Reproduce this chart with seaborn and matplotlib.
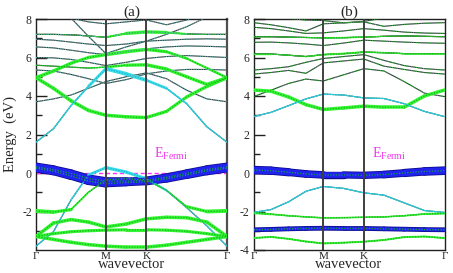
import numpy as np
import pandas as pd
import matplotlib
matplotlib.use('Agg')
import matplotlib.pyplot as plt
import seaborn as sns

# k-path G-M-K-G (hexagonal), sampled at 11 points
kpts = [0.0, 0.144, 0.289, 0.433, 0.577, 0.744, 0.911, 1.077, 1.244, 1.411, 1.577]
klabel_pos = [0.0, 0.577, 0.911, 1.577]
klabels = ['Γ', 'M', 'K', 'Γ']

# ---------------- panel (a) ----------------
# plain bands: name -> energies (eV)
a_thin = {
    'a_t1':  [8.6, 8.35, 8.05, 7.85, 7.75, 7.85, 7.95, 7.7, 7.95, 8.3, 8.6],
    'a_st':  [9.6, 8.9, 8.05, 7.1, 6.2, 6.55, 6.85, 7.2, 7.6, 8.1, 8.4],
    'a_72':  [7.2, 7.2, 7.18, 7.12, 7.05, 7.25, 7.33, 7.3, 7.22, 7.2, 7.2],
    'a_69':  [6.95, 6.9, 6.8, 6.7, 6.62, 6.7, 6.85, 6.9, 6.95, 6.97, 6.95],
    'a_65':  [6.55, 6.5, 6.38, 6.25, 6.15, 6.3, 6.45, 6.55, 6.6, 6.58, 6.55],
    'a_60':  [6.0, 5.98, 5.9, 5.75, 5.58, 5.75, 5.95, 6.05, 6.1, 6.05, 6.0],
    'a_v':   [5.35, 5.3, 5.12, 4.9, 4.65, 4.85, 5.15, 5.3, 5.38, 5.38, 5.35],
    'a_37':  [3.7, 3.85, 4.05, 4.4, 4.75, 5.0, 5.2, 4.9, 4.3, 3.85, 3.7],
}
# projected (fat) bands: energies, orbital weights, character
a_fat = {
    'a_g1':  ([4.95, 4.4, 3.75, 3.25, 3.0, 2.92, 2.88, 3.2, 3.95, 4.5, 4.95],
              [0.9, 0.9, 0.9, 0.9, 0.9, 0.9, 0.9, 0.8, 0.8, 0.9, 0.9], 'g'),
    'a_g2':  ([4.95, 5.3, 5.7, 6.0, 6.15, 6.3, 6.42, 6.3, 5.95, 5.45, 4.95],
              [0.9, 0.9, 0.8, 0.8, 0.9, 0.9, 0.9, 0.8, 0.6, 0.5, 0.8], 'g'),
    'a_g3':  ([5.6, 5.55, 5.5, 5.45, 5.5, 5.6, 5.62, 5.4, 5.0, 4.6, 4.95],
              [0.1, 0.1, 0.1, 0.2, 0.5, 0.8, 0.9, 0.9, 0.8, 0.9, 0.9], 'g'),
    'a_g72': ([7.2, 7.2, 7.18, 7.12, 7.05, 7.25, 7.33, 7.3, 7.22, 7.2, 7.2],
              [0.0, 0.0, 0.0, 0.1, 0.3, 0.8, 0.9, 0.8, 0.3, 0.0, 0.0], 'g'),
    'a_c1':  ([1.6, 2.3, 3.5, 4.5, 5.42, 5.15, 4.82, 4.4, 3.6, 2.4, 1.6],
              [0.25, 0.3, 0.35, 0.5, 1.0, 1.0, 0.9, 0.5, 0.35, 0.3, 0.25], 'c'),
    'a_c2':  ([-3.8, -3.05, -1.4, -0.1, 0.28, 0.05, -0.3, -0.9, -1.8, -2.75, -3.8],
              [0.3, 0.2, 0.2, 0.5, 0.9, 0.8, 0.8, 0.3, 0.2, 0.2, 0.3], 'c'),
    'a_gm2': ([-1.97, -2.03, -1.9, -1.0, -0.35, -0.3, -0.35, -0.9, -1.75, -2.0, -1.97],
              [1.0, 1.0, 0.7, 0.2, 0.4, 0.4, 0.4, 0.2, 0.6, 1.0, 1.0], 'g'),
    'a_gm24': ([-3.3, -2.6, -2.42, -2.55, -2.8, -2.65, -2.38, -2.3, -2.32, -2.55, -3.3],
               [0.9, 0.9, 0.9, 0.9, 0.9, 0.9, 0.9, 0.9, 0.9, 0.9, 0.9], 'g'),
    'a_gm30': ([-3.3, -3.15, -3.05, -3.0, -2.97, -2.95, -2.95, -2.97, -3.03, -3.15, -3.3],
               [0.8, 0.8, 0.8, 0.8, 0.8, 0.8, 0.8, 0.8, 0.8, 0.8, 0.8], 'g'),
    'a_gm38': ([-3.3, -3.45, -3.6, -3.72, -3.8, -3.85, -3.85, -3.75, -3.6, -3.45, -3.3],
               [0.9, 0.9, 0.9, 0.9, 0.9, 0.9, 0.9, 0.9, 0.9, 0.9, 0.9], 'g'),
    'a_b1':  ([0.32, 0.18, -0.02, -0.28, -0.42, -0.42, -0.38, -0.22, -0.02, 0.18, 0.32],
              [1.0, 1.0, 0.9, 0.9, 0.9, 0.8, 0.8, 0.9, 0.9, 1.0, 1.0], 'b'),
    'a_b2':  ([0.25, 0.1, -0.15, -0.42, -0.55, -0.5, -0.45, -0.3, -0.1, 0.1, 0.25],
              [1.0, 1.0, 0.9, 0.9, 0.9, 0.8, 0.8, 0.9, 0.9, 1.0, 1.0], 'b'),
}

# ---------------- panel (b) ----------------
b_thin = {
    'b_t0':  [8.3, 8.15, 8.02, 7.95, 7.92, 7.8, 7.88, 8.05, 8.15, 8.1, 8.3],
    'b_t1':  [7.81, 7.7, 7.55, 7.38, 7.75, 7.8, 7.85, 7.62, 7.72, 7.78, 7.81],
    'b_t2':  [7.57, 7.5, 7.38, 7.25, 7.28, 7.38, 7.5, 7.42, 7.32, 7.27, 7.25],
    'b_t3':  [7.08, 7.08, 7.06, 7.04, 7.02, 7.03, 7.06, 7.1, 7.12, 7.1, 7.08],
    'b_t4':  [6.79, 6.8, 6.76, 6.7, 6.62, 6.75, 6.9, 6.85, 6.8, 6.76, 6.74],
    'b_t5':  [6.18, 6.18, 6.12, 6.05, 6.15, 6.2, 6.28, 6.25, 6.2, 6.2, 6.2],
    'b_t6':  [5.35, 5.42, 5.52, 5.75, 5.95, 6.05, 6.15, 5.85, 5.58, 5.42, 5.35],
    'b_t7':  [5.14, 5.22, 5.33, 5.18, 5.72, 5.82, 5.92, 5.55, 5.38, 5.22, 5.14],
    'b_t8':  [3.97, 4.3, 4.65, 4.88, 4.78, 5.1, 5.42, 5.3, 4.75, 4.15, 3.97],
}
b_fat = {
    'b_g43': ([4.31, 4.25, 3.95, 3.55, 3.3, 3.38, 3.47, 3.42, 3.42, 4.0, 4.31],
              [0.9, 0.9, 0.9, 0.9, 0.9, 0.9, 0.9, 0.9, 0.9, 0.9, 0.9], 'g'),
    'b_g62': ([6.18, 6.18, 6.12, 6.05, 6.15, 6.2, 6.28, 6.25, 6.2, 6.2, 6.2],
              [0.4, 0.3, 0.2, 0.2, 0.5, 0.5, 0.5, 0.3, 0.4, 0.4, 0.4], 'g'),
    'b_g70': ([7.08, 7.08, 7.06, 7.04, 7.02, 7.03, 7.06, 7.1, 7.12, 7.1, 7.08],
              [0.1, 0.1, 0.1, 0.2, 0.4, 0.4, 0.4, 0.2, 0.1, 0.1, 0.1], 'g'),
    'b_c29': ([2.93, 3.15, 3.5, 3.85, 4.1, 4.05, 3.9, 3.87, 3.6, 3.2, 2.93],
              [0.3, 0.3, 0.3, 0.3, 0.3, 0.3, 0.3, 0.3, 0.3, 0.3, 0.3], 'c'),
    'b_b0':  ([0.15, 0.12, 0.04, -0.05, -0.1, -0.1, -0.12, -0.08, 0.0, 0.08, 0.12],
              [1.0, 1.0, 0.9, 0.85, 0.85, 0.8, 0.8, 0.85, 0.9, 1.0, 1.0], 'b'),
    'b_cm1': ([-2.05, -1.9, -1.5, -0.95, -0.7, -0.8, -1.03, -1.15, -1.55, -1.95, -2.05],
              [0.3, 0.3, 0.3, 0.3, 0.3, 0.3, 0.3, 0.3, 0.3, 0.3, 0.3], 'c'),
    'b_gm2': ([-2.08, -2.14, -2.22, -2.28, -2.33, -2.32, -2.3, -2.28, -2.22, -2.13, -2.1],
              [0.6, 0.5, 0.4, 0.4, 0.4, 0.4, 0.4, 0.4, 0.4, 0.5, 0.6], 'g'),
    'b_bm3': ([-2.95, -2.93, -2.9, -2.88, -2.87, -2.88, -2.88, -2.9, -2.92, -2.94, -2.95],
              [0.45, 0.45, 0.45, 0.45, 0.45, 0.45, 0.45, 0.45, 0.45, 0.45, 0.45], 'b'),
    'b_gm3': ([-3.38, -3.32, -3.42, -3.56, -3.66, -3.62, -3.57, -3.48, -3.33, -3.3, -3.38],
              [0.5, 0.5, 0.5, 0.5, 0.5, 0.5, 0.5, 0.5, 0.5, 0.5, 0.5], 'g'),
}

sns.set_theme(style='white')
plt.rcParams['font.family'] = ['Liberation Serif', 'DejaVu Serif']
plt.rcParams['mathtext.fontset'] = 'custom'
plt.rcParams['mathtext.rm'] = 'Liberation Serif'
plt.rcParams['axes.unicode_minus'] = False

fat_col = {'g': '#33f533', 'c': '#38dcea', 'b': '#2222ee'}
dot_col = {'g': '#12b812', 'c': '#20b8c8', 'b': '#10a040'}
fat_scale = {'g': 2.8, 'c': 2.8, 'b': 5.0}


def band_frame(bands):
    rows = []
    for name, en in bands.items():
        for kk, ee in zip(kpts, en):
            rows.append((name, kk, ee))
    return pd.DataFrame(rows, columns=['band', 'k', 'E'])


def draw_panel(ax, thin, fat, tint, title, ylabels):
    df = band_frame(thin)
    fat_df = band_frame({n: v[0] for n, v in fat.items()})
    # Fermi level
    ax.axhline(0, color='#ff33ff', lw=1.0, ls=(0, (3, 2)), zorder=1)
    # plain bands
    sns.lineplot(data=df, x='k', y='E', units='band', estimator=None, sort=False,
                 color='#2f3f3f', lw=0.8, ax=ax, zorder=2)
    sns.lineplot(data=fat_df, x='k', y='E', units='band', estimator=None, sort=False,
                 color='#2f3f3f', lw=0.8, ax=ax, zorder=2)
    # projected (fat) bands, width ~ weight
    for name, (en, w, c) in fat.items():
        for i in range(len(kpts) - 1):
            ww = 0.5 * (w[i] + w[i + 1])
            if ww < 0.05:
                continue
            xs, ys = [kpts[i], kpts[i + 1]], [en[i], en[i + 1]]
            if c == 'b':
                ax.plot(xs, ys, color='#0c0c90', lw=ww * fat_scale[c] + 1.2,
                        solid_capstyle='round', zorder=3)
            ax.plot(xs, ys, color=fat_col[c], lw=ww * fat_scale[c],
                    solid_capstyle='round', zorder=4)
        ax.plot(kpts, en, color=dot_col[c], lw=0.9, ls=(0, (1, 1.2)), zorder=5)
    # tint along the plain bands
    sns.lineplot(data=df, x='k', y='E', units='band', estimator=None, sort=False,
                 color=tint, lw=0.7, ls=(0, (1, 1.5)), ax=ax, zorder=5)

    for kx in klabel_pos[1:3]:
        ax.axvline(kx, color='#404040', lw=1.4, zorder=6)
    ax.set_xlim(0, 1.577)
    ax.set_ylim(-4, 8)
    ax.set_xticks(klabel_pos)
    ax.set_xticklabels(klabels, fontsize=8)
    ax.set_yticks(ylabels)
    ax.set_yticklabels([str(v) for v in ylabels], fontsize=8.5)
    ax.set_yticks([-3, -1, 1, 3, 5, 7], minor=True)
    ax.tick_params(axis='y', which='major', direction='in', length=8, width=1,
                   pad=3, color='#202020', left=True)
    ax.tick_params(axis='y', which='minor', direction='in', length=4, width=1,
                   color='#202020', left=True)
    ax.tick_params(axis='x', length=0, pad=1.5)
    ax.set_xlabel('wavevector', fontsize=10.5, labelpad=-2.5)
    ax.set_ylabel('')
    ax.set_title(title, fontsize=11, pad=2)
    for s in ax.spines.values():
        s.set_color('#202020')
        s.set_linewidth(1.0)
    ax.text(0.975, 0.78, r'E$_{\mathrm{Fermi}}$', color='#ee33ee', fontsize=10,
            va='baseline', zorder=7)


fig = plt.figure(figsize=(4.53, 2.73), dpi=100)
ax1 = fig.add_axes([36 / 453, 23 / 273, 191 / 453, 231 / 273])
ax2 = fig.add_axes([253.5 / 453, 23 / 273, 191 / 453, 231 / 273])

draw_panel(ax1, a_thin, a_fat, '#60b8b8', '(a)', [-2, 0, 2, 4, 6, 8])
draw_panel(ax2, b_thin, b_fat, '#30c030', '(b)', [-4, -2, 0, 2, 4, 6, 8])
ax1.spines['right'].set_color('#505050')
ax1.spines['right'].set_linewidth(1.6)
ax1.set_ylabel('Energy  (eV)', fontsize=10.5, labelpad=4)

fig.savefig('out.png', dpi=100)
